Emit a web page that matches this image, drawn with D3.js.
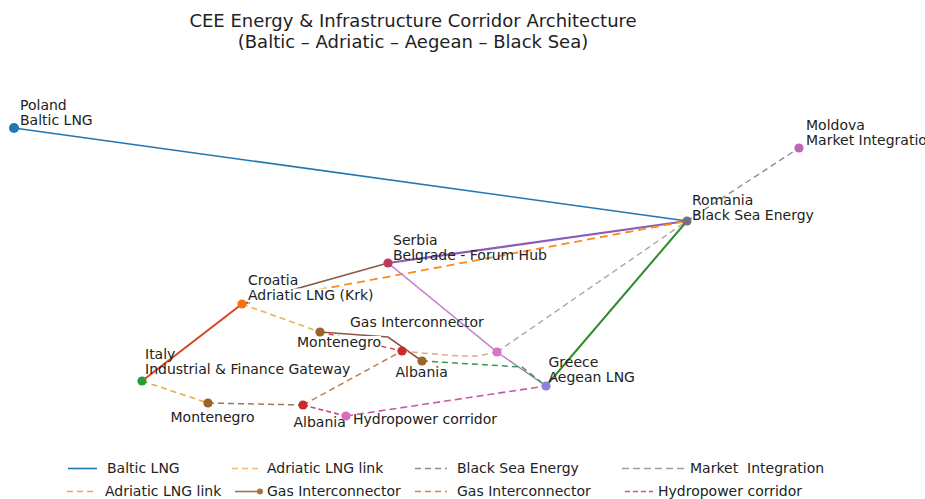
<!DOCTYPE html>
<html><head><meta charset="utf-8">
<script src="https://cdn.jsdelivr.net/npm/d3@7/dist/d3.min.js"></script>
<style>
html,body{margin:0;padding:0;background:#fff;overflow:hidden}
text{font-family:"DejaVu Sans",Verdana,sans-serif;fill:#222;white-space:pre}
</style>
</head><body>
<svg id="chart" width="925" height="499"></svg>
<script>
// ---------------- DATA ----------------
const titleLines = ["CEE Energy & Infrastructure Corridor Architecture", "(Baltic – Adriatic – Aegean – Black Sea)"];

const nodeIds = ["Poland","Romania","Moldova","Serbia","Croatia","Italy","Montenegro","AlbaniaHub","Albania","GasHub","Greece","Montenegro2","Albania2","Hydro"];
const nodeX   = [0.0, 67.3, 78.5, 37.4, 22.8, 12.8, 30.6, 38.8, 40.8, 48.3, 53.2, 19.4, 28.9, 33.2];
const nodeY   = [28.7, 19.4, 26.7, 15.2, 11.1, 3.4, 8.3, 6.4, 5.4, 6.3, 2.9, 1.2, 1.0, -0.1];
const nodeLabels = [
  ["Poland","Baltic LNG"],
  ["Romania","Black Sea Energy"],
  ["Moldova","Market Integration"],
  ["Serbia","Belgrade - Forum Hub"],
  ["Croatia","Adriatic LNG (Krk)"],
  ["Italy","Industrial & Finance Gateway"],
  ["Montenegro"],
  ["Gas Interconnector"],
  ["Albania"],
  [],
  ["Greece","Aegean LNG"],
  ["Montenegro"],
  ["Albania"],
  ["Hydropower corridor"]
];

// bend points of routed corridors (same coordinate system as nodes)
const waypointIds = ["gasBend","aegeanBend","tanBend"];
const waypointX   = [37.4, 50.8, 46.0];
const waypointY   = [7.8, 4.8, 5.9];

const edgeSeries = ["baltic","market","serbiaRomania","adriaticRomania","serbiaCroatia","italyCroatia",
  "italyMontenegro","croatiaMontenegro","gasSolid","gasRed","gasTan","gasHubRomania","albaniaGas",
  "montenegroAlbania","hydroA","hydroB","serbiaGreece","serbiaGasHub","aegeanDashed","aegean"];
const edgePaths = [
  ["Poland","Romania"],
  ["Romania","Moldova"],
  ["Serbia","Romania"],
  ["Croatia","Romania"],
  ["Serbia","Croatia"],
  ["Italy","Croatia"],
  ["Italy","Montenegro2"],
  ["Croatia","Montenegro"],
  ["Montenegro","gasBend","Albania"],
  ["Montenegro","AlbaniaHub"],
  ["AlbaniaHub","tanBend","GasHub"],
  ["GasHub","Romania"],
  ["Albania2","AlbaniaHub"],
  ["Montenegro2","Albania2"],
  ["Albania2","Hydro"],
  ["Hydro","Greece"],
  ["Serbia","GasHub","Greece"],
  ["Serbia","GasHub"],
  ["Albania","aegeanBend","Greece"],
  ["Greece","Romania"]
];

const legendLabels = ["Baltic LNG","Adriatic LNG link","Black Sea Energy","Market  Integration",
                      "Adriatic LNG link","Gas Interconnector","Gas Interconnector","Hydropower corridor"];

// ---------------- STYLE / LAYOUT ----------------
const nodeColors = {Poland:"#1f77b4",Romania:"#75707c",Moldova:"#c066b8",Serbia:"#c0395b",Croatia:"#f8720f",
  Italy:"#22a03a",Montenegro:"#9a6328",AlbaniaHub:"#cf2a2a",Albania:"#9a6328",GasHub:"#d874c4",
  Greece:"#8b80dc",Montenegro2:"#9a6328",Albania2:"#c8282e",Hydro:"#dc6cc0"};

const edgeStyle = {
  baltic:{c:"#1f77b4",w:1.6},
  market:{c:"#8e8e8e",w:1.4,d:"6,4"},
  serbiaRomania:{c:"#8a5cb8",w:2.2},
  adriaticRomania:{c:"#ff8a1c",w:1.8,d:"8,5"},
  serbiaCroatia:{c:"#8c5a4a",w:1.6},
  italyCroatia:{c:"#d9441c",w:2},
  italyMontenegro:{c:"#e4b040",w:1.6,d:"6,4"},
  croatiaMontenegro:{c:"#e8b44e",w:1.6,d:"6,4"},
  gasSolid:{c:"#8a5a40",w:1.6},
  gasRed:{c:"#e04040",w:1.4,d:"5,4"},
  gasTan:{c:"#d8a890",w:1.5,d:"6,4",curve:true},
  gasHubRomania:{c:"#b8aa9c",w:1.5,d:"6,4"},
  albaniaGas:{c:"#c08050",w:1.5,d:"6,4"},
  montenegroAlbania:{c:"#a07858",w:1.5,d:"6,4"},
  hydroA:{c:"#c0407c",w:1.6,d:"5,3"},
  hydroB:{c:"#c75aa8",w:1.6,d:"7,4"},
  serbiaGreece:{c:"#a878c8",w:1.4},
  serbiaGasHub:{c:"#e888d0",w:1.4,d:"5,4"},
  aegeanDashed:{c:"#3a9a48",w:1.5,d:"6,4"},
  aegean:{c:"#2e8b2e",w:2}
};

// label offsets [dx, dy of first baseline]
const labelOffset = {Poland:[6,-18],Romania:[5,-16],Moldova:[7,-18],Serbia:[5,-18],Croatia:[6,-19],
  Italy:[3,-22],Montenegro:[-23,15],AlbaniaHub:[-52,-24.5],Albania:[-26.5,15.5],Greece:[2.5,-19],
  Montenegro2:[-37.5,19],Albania2:[-9.5,22],Hydro:[7,7.5]};
const maskedLabelLines = [["Croatia",1],["Montenegro",0]];

const legendStyle = [
  {c:"#1f77b4",d:null,x1:68,x2:97,tx:107,row:0},
  {c:"#f6bc6c",d:"6,4",x1:232,x2:260,tx:267,row:0},
  {c:"#8c8c8c",d:"6,4",x1:415,x2:447,tx:457,row:0},
  {c:"#a898a8",d:"7,4",x1:622,x2:687,tx:690,row:0},
  {c:"#e6ac42",d:"6,4",x1:67,x2:97,tx:105,row:1},
  {c:"#a8743c",d:null,x1:235,x2:260,tx:267,row:1,marker:true},
  {c:"#d4884c",d:"6,4",x1:415,x2:447,tx:457,row:1},
  {c:"#c458a8",d:"5,3",x1:625,x2:653,tx:658,row:1}
];

// ---------------- DRAW ----------------
const svg = d3.select("#chart");
const x = d3.scaleLinear().domain([0, 78.6]).range([14, 800]);
const y = d3.scaleLinear().domain([0, 28.7]).range([415, 128]);

const pos = {};
nodeIds.forEach((id,i)=>{ pos[id] = [nodeX[i], nodeY[i]]; });
waypointIds.forEach((id,i)=>{ pos[id] = [waypointX[i], waypointY[i]]; });

// title
svg.selectAll("text.title").data(titleLines).join("text")
  .attr("class","title").attr("x",413).attr("y",(d,i)=>26.5+i*21)
  .attr("text-anchor","middle").style("font-size","18px").text(d=>d);

// edges
const gE = svg.append("g");
edgePaths.forEach((p,i)=>{
  const st = edgeStyle[edgeSeries[i]];
  const line = d3.line().x(d=>x(pos[d][0])).y(d=>y(pos[d][1]))
    .curve(st.curve ? d3.curveCatmullRom.alpha(0.5) : d3.curveLinear);
  gE.append("path").attr("d", line(p)).attr("fill","none")
    .attr("stroke", st.c).attr("stroke-width", st.w)
    .attr("stroke-dasharray", st.d || null).attr("stroke-linecap","butt");
});

// labels
const gL = svg.append("g");
nodeIds.forEach((id,i)=>{
  const lines = nodeLabels[i];
  if(!lines.length) return;
  const off = labelOffset[id] || [5,-18];
  lines.forEach((t,j)=>{
    const tx = x(nodeX[i]) + off[0], ty = y(nodeY[i]) + off[1] + j*14.5;
    const masked = maskedLabelLines.some(m=>m[0]===id && m[1]===j);
    const grp = gL.append("g");
    const txt = grp.append("text").attr("x",tx).attr("y",ty).style("font-size","14px").text(t);
    if(masked){
      const bb = txt.node().getBBox();
      grp.insert("rect","text").attr("x",bb.x).attr("y",bb.y+2).attr("width",bb.width).attr("height",bb.height-2).attr("fill","#fff");
    }
  });
});

// nodes
svg.append("g").selectAll("circle").data(nodeIds).join("circle")
  .attr("cx",(d,i)=>x(nodeX[i])).attr("cy",(d,i)=>y(nodeY[i]))
  .attr("r",(d)=> d==="Poland"?5:4.6).attr("fill",d=>nodeColors[d]);

// legend
const rowY = [468.5, 491.5];
const gLeg = svg.append("g");
legendLabels.forEach((t,i)=>{
  const s = legendStyle[i];
  const ly = rowY[s.row];
  gLeg.append("line").attr("x1",s.x1).attr("x2",s.x2).attr("y1",ly).attr("y2",ly)
    .attr("stroke",s.c).attr("stroke-width",1.6).attr("stroke-dasharray",s.d||null);
  if(s.marker) gLeg.append("circle").attr("cx",s.x2).attr("cy",ly).attr("r",3).attr("fill",s.c);
  gLeg.append("text").attr("x",s.tx).attr("y",ly+4.7).style("font-size","14px").text(t);
});
</script>
</body></html>
